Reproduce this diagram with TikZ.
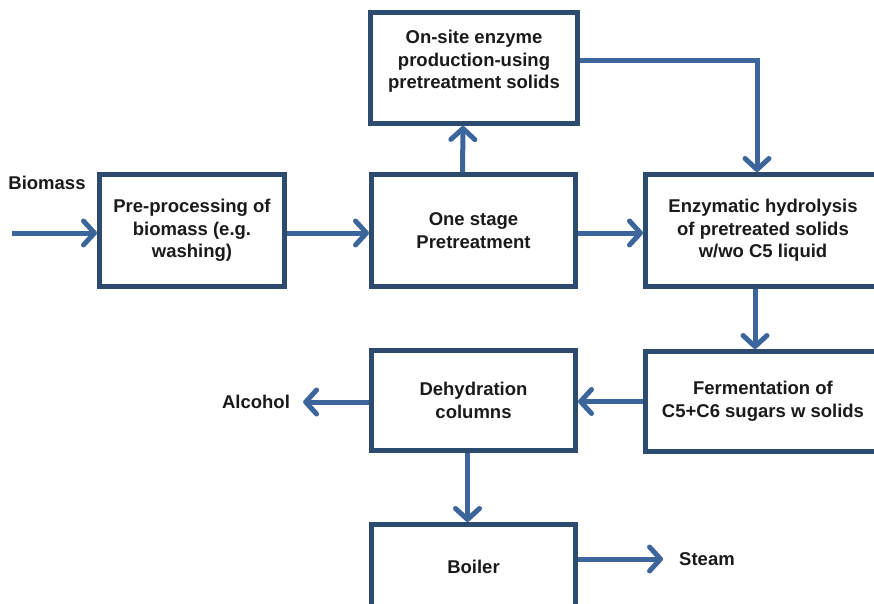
\documentclass[tikz,border=0pt]{standalone}
\usepackage{fontspec}
\setmainfont{Liberation Sans}
\usetikzlibrary{arrows.meta}
\definecolor{boxc}{HTML}{2D4A6F}
\definecolor{arrc}{HTML}{3C659B}
\definecolor{txtc}{HTML}{1A1A1A}
\begin{document}
\begin{tikzpicture}[x=1pt,y=-1pt,
  font=\fontsize{18.5}{22.5}\selectfont\bfseries,
  boxn/.style={draw=boxc, line width=5pt, fill=white, inner sep=0pt, align=center, text=txtc},
  lbl/.style={text=txtc, inner sep=2pt},
  flow/.style={draw=arrc, line width=5pt, -{Straight Barb[length=11pt,width=24pt,round]}}
]
\useasboundingbox (0,0) rectangle (874,604);
\clip (0,0) rectangle (874,604);

\node[boxn, minimum width=185pt, minimum height=112pt] (pre) at (192,230.5) {Pre-processing of\\biomass (e.g.\\washing)};
\node[boxn, minimum width=204pt, minimum height=112pt] (one) at (473.5,230.5) {One stage\\Pretreatment};
\node[boxn, minimum width=207pt, minimum height=111pt] (onsite) at (474,68) {On-site enzyme\\production-using\\pretreatment solids\\[-6pt]\mbox{}};
\node[boxn, minimum width=235pt, minimum height=112pt] (enz) at (763,230.5) {Enzymatic hydrolysis\\of pretreated solids\\w/wo C5 liquid};
\node[boxn, minimum width=204pt, minimum height=100pt] (dehyd) at (473.5,400.5) {Dehydration\\columns};
\node[boxn, minimum width=235pt, minimum height=100pt] (ferm) at (763,401.5) {Fermentation of\\C5+C6 sugars w solids};
\node[boxn, minimum width=204pt, minimum height=85pt] (boiler) at (473.5,567) {Boiler};

\node[lbl] (biomass) at (47,183) {Biomass};
\node[lbl] (alcohol) at (256,402) {Alcohol};
\node[lbl] (steam) at (707,559) {Steam};
\coordinate (bin) at (12,233);
\coordinate (dw) at ([yshift=-1.5pt]dehyd.west);
\coordinate (be) at ([yshift=8pt]boiler.east);

\draw[flow] (bin) -- (bin -| pre.west);
\draw[flow] ([yshift=-2.5pt]pre.east) -- ([yshift=-2.5pt]one.west);
\draw[flow] ([yshift=-2.5pt]one.east) -- ([yshift=-2.5pt]enz.west);
\draw[flow] ([xshift=-11pt]one.north) -- ([xshift=-11pt]onsite.south);
\draw[flow] ([yshift=7pt]onsite.east) -| ([xshift=-6pt]enz.north);
\draw[flow] ([xshift=-8pt]enz.south) -- ([xshift=-8pt]ferm.north);
\draw[flow] (ferm.west) -- (ferm.west -| dehyd.east);
\draw[flow] (dw) -- ([xshift=11pt]dw -| alcohol.east);
\draw[flow] ([xshift=-6pt]dehyd.south) -- ([xshift=-6pt]boiler.north);
\draw[flow] (be) -- ([xshift=-14pt]be -| steam.west);
\end{tikzpicture}
\end{document}
